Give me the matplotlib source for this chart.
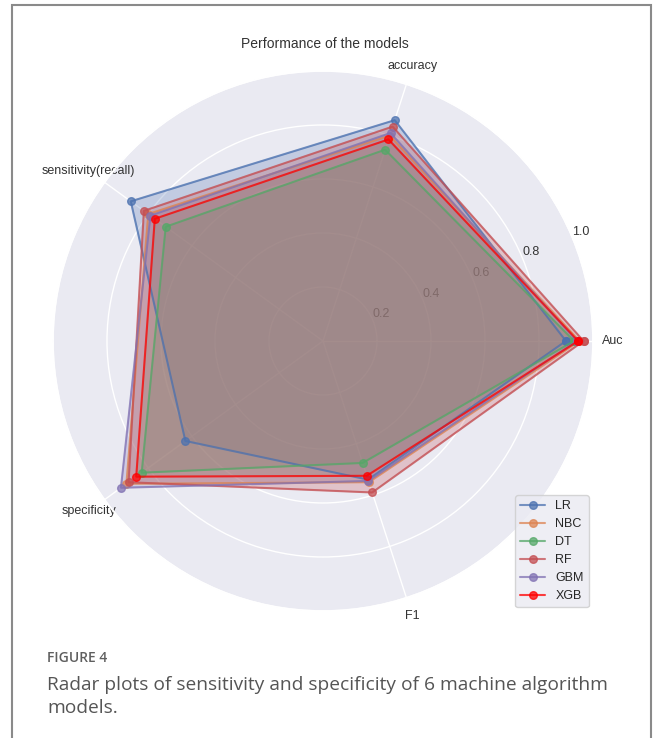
import numpy as np
import matplotlib.pyplot as plt
import seaborn as sns
from matplotlib.patches import Rectangle

sns.set_theme(style="darkgrid")
plt.rcParams['font.family'] = ['Liberation Sans', 'DejaVu Sans']

metrics = ['Auc', 'accuracy', 'sensitivity(recall)', 'specificity', 'F1']
models = ['LR', 'NBC', 'DT', 'RF', 'GBM', 'XGB']

# scores per model, in the order of `metrics`
lr = [0.90, 0.86, 0.88, 0.63, 0.54]
nbc = [0.95, 0.80, 0.80, 0.90, 0.55]
dt = [0.93, 0.745, 0.72, 0.83, 0.475]
rf = [0.965, 0.835, 0.82, 0.89, 0.59]
gbm = [0.94, 0.81, 0.79, 0.925, 0.545]
xgb = [0.945, 0.785, 0.77, 0.855, 0.525]
scores = [lr, nbc, dt, rf, gbm, xgb]

pal = sns.color_palette("deep")
line_colors = [pal[0], pal[1], pal[2], pal[3], pal[4], 'red']
fill_colors = pal[:6]

angles = np.linspace(0, 2 * np.pi, len(metrics), endpoint=False)
angles_closed = np.concatenate([angles, angles[:1]])

fig = plt.figure(figsize=(6.59, 7.38), dpi=100)
ax = fig.add_axes([0.0804, 0.1721, 0.8194, 0.7317], projection='polar')
ax.set_axisbelow(True)

for name, vals, lc, fc in zip(models, scores, line_colors, fill_colors):
    v = np.concatenate([vals, vals[:1]])
    ax.plot(angles_closed, v, 'o-', color=lc, linewidth=1.5, markersize=5.5, alpha=0.75, label=name)
    ax.fill(angles_closed, v, color=fc, alpha=0.25)

ax.set_thetagrids(np.degrees(angles), metrics, fontsize=9, color='#333333')
ax.set_ylim(0, 1.0)
ax.set_yticks([0.2, 0.4, 0.6, 0.8, 1.0])
ax.set_yticklabels(['0.2', '0.4', '0.6', '0.8', '1.0'], fontsize=9, color='#333333')
ax.tick_params(axis='x', pad=1)

ax.legend(loc='lower right', bbox_to_anchor=(0.903, 0.169), bbox_transform=fig.transFigure,
          fontsize=9, handlelength=2.0, labelspacing=0.48)

fig.text(0.493, 1 - 44 / 738, 'Performance of the models', ha='center', va='center',
         fontsize=10, color='#333333')

# caption and frame
fig.patches.append(Rectangle((12 / 659, -0.01), 639 / 659, 1 - 5 / 738 + 0.01,
                             transform=fig.transFigure, fill=False, edgecolor='#8a8a8a',
                             linewidth=1.5))
fig.text(47 / 659, 1 - 658 / 738, 'FIGURE 4', ha='left', va='center', fontsize=10,
         color='#5f5f5f', family=['Open Sans', 'DejaVu Sans'], fontweight='semibold')
fig.text(47 / 659, 1 - 685 / 738, 'Radar plots of sensitivity and specificity of 6 machine algorithm',
         ha='left', va='center', fontsize=13.8, color='#555555', family=['Open Sans', 'DejaVu Sans'])
fig.text(47 / 659, 1 - 708 / 738, 'models.', ha='left', va='center', fontsize=13.8,
         color='#555555', family=['Open Sans', 'DejaVu Sans'])

fig.savefig('out.png', dpi=100)
